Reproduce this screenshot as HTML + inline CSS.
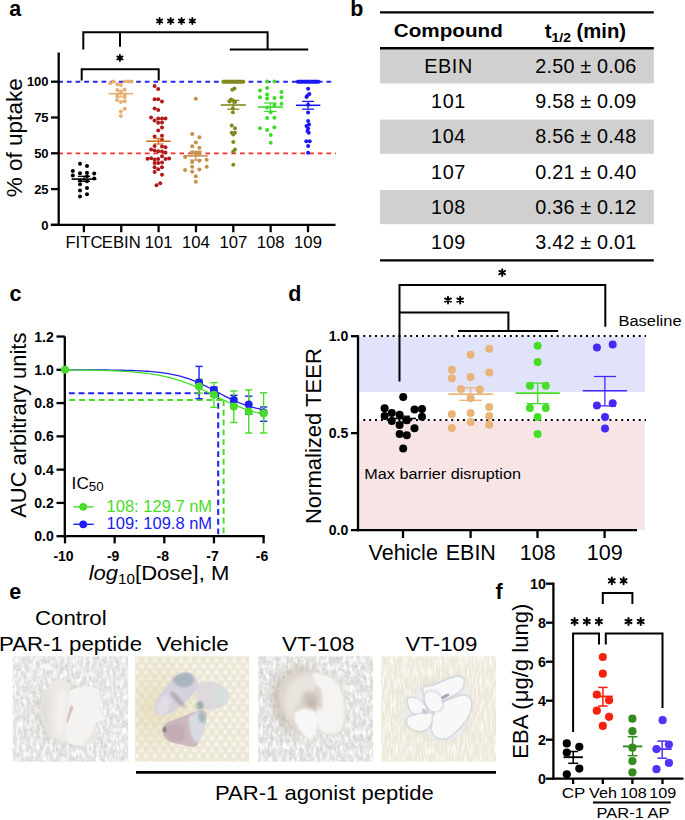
<!DOCTYPE html>
<html><head><meta charset="utf-8"><style>
html,body{margin:0;padding:0;background:#fff;width:685px;height:820px;overflow:hidden}
svg{display:block}
text{font-family:"Liberation Sans",sans-serif}
</style></head><body>
<svg width="685" height="820" viewBox="0 0 685 820">
<rect width="685" height="820" fill="#fff"/>
<defs>
<filter id="b05" x="-30%" y="-30%" width="160%" height="160%"><feGaussianBlur stdDeviation="0.6"/></filter>
<filter id="b1" x="-30%" y="-30%" width="160%" height="160%"><feGaussianBlur stdDeviation="1.2"/></filter>
<filter id="b2" x="-30%" y="-30%" width="160%" height="160%"><feGaussianBlur stdDeviation="2.5"/></filter>
<filter id="b4" x="-50%" y="-50%" width="200%" height="200%"><feGaussianBlur stdDeviation="5"/></filter>
<filter id="tx" x="0" y="0" width="100%" height="100%"><feTurbulence type="fractalNoise" baseFrequency="0.3 0.14" numOctaves="3" seed="3"/><feColorMatrix type="matrix" values="0 0 0 0 1  0 0 0 0 1  0 0 0 0 1  0 0 0 2.6 -1.05"/></filter>
<filter id="txd" x="0" y="0" width="100%" height="100%"><feTurbulence type="fractalNoise" baseFrequency="0.25 0.35" numOctaves="2" seed="11"/><feColorMatrix type="matrix" values="0 0 0 0 0.6  0 0 0 0 0.6  0 0 0 0 0.58  0 0 0 2.2 -1.0"/></filter>
<filter id="txv" x="0" y="0" width="100%" height="100%"><feTurbulence type="fractalNoise" baseFrequency="0.55 0.09" numOctaves="2" seed="5"/><feColorMatrix type="matrix" values="0 0 0 0 1  0 0 0 0 1  0 0 0 0 1  0 0 0 2.4 -1.0"/></filter>
<pattern id="tri" x="135.1" y="656.2" width="8.8" height="12" patternUnits="userSpaceOnUse"><path d="M2.2,0 L5.1,6 L-0.7,6Z M6.6,6 L9.5,12 L3.7,12Z M11,6 L13.9,12 L8.1,12Z M-2.2,6 L0.7,12 L-5.1,12Z" fill="#FBFAF6"/></pattern>
<radialGradient id="vig2" cx="0.2" cy="0.5" r="0.5"><stop offset="0" stop-color="#E0D3A8" stop-opacity="1"/><stop offset="1" stop-color="#E0D3A8" stop-opacity="0"/></radialGradient>
<clipPath id="c1"><rect x="12.6" y="656.2" width="115.7" height="105.5"/></clipPath>
<clipPath id="c2"><rect x="135.1" y="656.2" width="114.2" height="105.5"/></clipPath>
<clipPath id="c3"><rect x="258.1" y="656.2" width="115" height="105.5"/></clipPath>
<clipPath id="c4"><rect x="381.1" y="656.2" width="115" height="105.5"/></clipPath>
</defs>
<g clip-path="url(#c1)">
<rect x="12.6" y="656.2" width="115.7" height="105.5" fill="#E3E3E1"/>
<rect x="12.6" y="656.2" width="115.7" height="105.5" filter="url(#txd)"/>
<rect x="12.6" y="656.2" width="115.7" height="105.5" filter="url(#tx)"/>
<ellipse cx="64" cy="714" rx="30" ry="31" fill="#B0ACA6" opacity="0.2" filter="url(#b4)"/>
<path d="M60.2,679.4 C62.2,679.5 64.9,679.7 66.8,681.6 C68.6,683.4 69.1,689.3 71.1,690.3 C73.1,691.3 76.1,688.2 78.8,687.6 C81.5,687.0 84.8,686.4 87.6,686.5 C90.3,686.6 93.3,687.0 95.2,688.1 C97.1,689.3 98.1,691.2 99.1,693.6 C100.0,696.0 100.6,699.6 100.7,702.4 C100.8,705.1 98.9,707.3 99.6,710.0 C100.3,712.8 105.6,716.8 105.1,718.8 C104.5,720.8 97.9,720.3 96.3,722.1 C94.8,723.9 96.1,727.2 95.8,729.7 C95.4,732.3 95.1,735.2 94.1,737.4 C93.1,739.6 91.6,741.5 89.7,742.9 C87.9,744.3 85.5,745.3 83.2,745.6 C80.8,746.0 78.1,745.6 75.5,745.1 C73.0,744.5 70.0,742.9 67.8,742.3 C65.7,741.8 64.2,742.2 62.4,741.8 C60.5,741.3 59.1,740.9 56.9,739.6 C54.7,738.3 51.4,736.3 49.2,734.1 C47.0,731.9 45.1,729.4 43.8,726.5 C42.4,723.5 41.5,720.1 41.0,716.6 C40.6,713.1 40.6,709.3 41.0,705.7 C41.5,702.0 42.4,698.0 43.8,694.7 C45.1,691.4 47.4,688.2 49.2,685.9 C51.1,683.7 52.9,682.1 54.7,681.0 C56.5,679.9 58.2,679.3 60.2,679.4Z" fill="#EEEBE8" filter="url(#b05)"/>
<path d="M60.2,679.4 C62.2,679.5 64.9,679.9 66.8,681.6 C68.6,683.2 70.8,685.8 71.1,689.2 C71.5,692.7 69.7,698.4 68.9,702.4 C68.2,706.4 67.3,709.7 66.8,713.3 C66.2,717.0 66.0,720.4 65.7,724.3 C65.3,728.1 65.1,733.4 64.6,736.3 C64.0,739.2 63.7,741.2 62.4,741.8 C61.1,742.3 59.1,740.9 56.9,739.6 C54.7,738.3 51.4,736.3 49.2,734.1 C47.0,731.9 45.1,729.4 43.8,726.5 C42.4,723.5 41.5,720.1 41.0,716.6 C40.6,713.1 40.6,709.3 41.0,705.7 C41.5,702.0 42.4,698.0 43.8,694.7 C45.1,691.4 47.4,688.2 49.2,685.9 C51.1,683.7 52.9,682.1 54.7,681.0 C56.5,679.9 58.2,679.3 60.2,679.4Z" fill="#EBE8E5" filter="url(#b05)"/>
<path d="M41.6,707.8 C41.6,702.9 43.4,700.2 44.9,696.9 C46.3,693.6 49.8,687.2 50.3,688.1 C50.9,689.1 48.7,697.3 48.1,702.4 C47.6,707.5 46.7,713.9 47.0,718.8 C47.4,723.7 50.7,730.7 50.3,731.9 C50.0,733.2 46.3,730.5 44.9,726.5 C43.4,722.4 41.6,712.8 41.6,707.8Z" fill="#D6D0CA" opacity="0.6" filter="url(#b2)"/>
<path d="M60.2,687.0 C61.7,685.2 65.1,688.7 66.2,691.4 C67.3,694.2 66.9,699.3 66.8,703.5 C66.6,707.7 65.6,711.9 65.1,716.6 C64.7,721.4 64.7,728.5 64.0,731.9 C63.3,735.4 61.9,737.4 60.7,737.4 C59.5,737.4 57.7,735.0 56.9,731.9 C56.1,728.8 55.8,723.7 55.8,718.8 C55.8,713.9 56.2,707.7 56.9,702.4 C57.6,697.1 58.6,688.9 60.2,687.0Z" fill="#F3F2F1" filter="url(#b2)"/>
<path d="M71.1,690.3 C72.7,689.1 76.1,688.2 78.8,687.6 C81.5,687.0 84.8,686.4 87.6,686.5 C90.3,686.6 93.3,687.0 95.2,688.1 C97.1,689.3 98.1,691.2 99.1,693.6 C100.0,696.0 100.6,699.6 100.7,702.4 C100.8,705.1 99.2,707.8 99.6,710.0 C100.0,712.2 102.0,714.1 102.9,715.5 C103.8,717.0 105.3,717.9 105.1,718.8 C104.9,719.7 103.3,720.4 101.8,721.0 C100.3,721.5 97.3,720.6 96.3,722.1 C95.3,723.5 96.1,727.2 95.8,729.7 C95.4,732.3 95.1,735.2 94.1,737.4 C93.1,739.6 91.6,741.5 89.7,742.9 C87.9,744.3 85.5,745.3 83.2,745.6 C80.8,746.0 77.7,745.5 75.5,745.1 C73.3,744.6 71.5,744.3 70.0,742.9 C68.6,741.4 67.5,739.4 66.8,736.3 C66.0,733.2 65.7,728.1 65.7,724.3 C65.7,720.4 66.3,717.0 66.8,713.3 C67.2,709.7 67.9,705.5 68.4,702.4 C68.9,699.3 69.0,696.7 69.5,694.7 C69.9,692.7 69.6,691.5 71.1,690.3Z" fill="#F5F3F1" filter="url(#b05)"/>
<path d="M96.3,723.2 C97.0,722.8 95.8,731.0 94.7,734.1 C93.6,737.2 91.7,740.1 89.7,741.8 C87.8,743.4 83.0,744.9 83.2,744.0 C83.4,743.1 88.7,739.8 90.8,736.3 C93.0,732.8 95.7,723.5 96.3,723.2Z" fill="#E4E0DC" filter="url(#b1)"/>
<path d="M70.6,705.7 C71.4,704.9 73.4,706.0 73.3,707.8 C73.2,709.7 71.0,714.1 70.0,716.6 C69.1,719.2 68.4,722.4 67.8,723.2 C67.3,723.9 66.4,722.8 66.5,721.0 C66.6,719.2 67.7,714.8 68.4,712.2 C69.1,709.7 69.8,706.4 70.6,705.7Z" fill="#C9A6A6" opacity="0.6" filter="url(#b05)"/>
</g>
<g clip-path="url(#c2)">
<rect x="135.1" y="656.2" width="114.2" height="105.5" fill="#EAE4D0"/>
<rect x="135.1" y="656.2" width="114.2" height="105.5" fill="url(#tri)" filter="url(#b1)"/>
<rect x="135.1" y="656.2" width="114.2" height="105.5" fill="url(#vig2)" opacity="0.55"/>
<path d="M195.7,686.5 C196.8,683.9 199.6,682.5 203.0,681.9 C206.3,681.3 212.1,681.8 215.8,682.8 C219.4,683.9 222.6,686.2 224.9,688.3 C227.2,690.5 229.1,693.2 229.5,695.6 C229.8,698.1 228.7,700.8 226.7,702.9 C224.7,705.0 220.6,707.2 217.6,708.4 C214.5,709.6 211.2,710.5 208.5,710.2 C205.7,709.9 203.1,708.7 201.2,706.6 C199.2,704.4 197.5,700.8 196.6,697.4 C195.7,694.1 194.6,689.1 195.7,686.5Z" fill="#DDD9DD" filter="url(#b05)"/>
<path d="M154.6,708.4 C154.3,705.8 155.4,702.9 157.4,699.3 C159.3,695.6 163.8,690.1 166.5,686.5 C169.2,682.8 171.4,679.7 173.8,677.4 C176.2,675.1 178.4,673.6 181.1,672.8 C183.8,672.0 187.6,671.7 190.2,672.8 C192.8,673.9 195.4,676.9 196.6,679.2 C197.8,681.5 198.3,683.8 197.5,686.5 C196.8,689.2 194.2,692.9 192.0,695.6 C189.9,698.4 187.2,700.8 184.7,702.9 C182.3,705.0 180.2,706.6 177.4,708.4 C174.7,710.2 171.4,712.8 168.3,713.9 C165.3,714.9 161.5,715.7 159.2,714.8 C156.9,713.9 154.9,711.0 154.6,708.4Z" fill="#D6D2DC" filter="url(#b05)"/>
<path d="M161.9,730.3 C161.9,727.6 164.2,724.8 166.5,723.0 C168.8,721.2 172.6,720.6 175.6,719.3 C178.7,718.1 181.7,716.9 184.7,715.7 C187.8,714.5 190.8,713.0 193.9,712.0 C196.9,711.1 200.9,709.6 203.0,710.2 C205.1,710.8 206.3,713.0 206.6,715.7 C206.9,718.4 205.7,723.3 204.8,726.6 C203.9,730.0 202.4,732.7 201.2,735.8 C200.0,738.8 199.0,743.1 197.5,744.9 C196.0,746.7 194.5,746.7 192.0,746.7 C189.6,746.7 186.0,745.5 182.9,744.9 C179.9,744.3 176.5,744.0 173.8,743.1 C171.1,742.2 168.5,741.5 166.5,739.4 C164.5,737.3 161.9,733.0 161.9,730.3Z" fill="#CBB9BE" filter="url(#b05)"/>
<path d="M172.9,679.2 C173.2,677.1 178.2,674.6 181.1,673.7 C184.0,672.8 188.1,672.5 190.2,673.7 C192.3,674.9 194.2,678.9 193.9,681.0 C193.6,683.2 190.8,685.6 188.4,686.5 C186.0,687.4 181.9,687.7 179.3,686.5 C176.7,685.3 172.6,681.3 172.9,679.2Z" fill="#8CA2AC" opacity="0.6" filter="url(#b1)"/>
<path d="M170.1,692.0 C170.5,691.1 173.2,691.7 175.6,693.8 C178.1,695.9 183.5,702.5 184.7,704.7 C186.0,707.0 184.7,708.4 182.9,707.5 C181.1,706.6 175.9,701.9 173.8,699.3 C171.7,696.7 169.8,692.9 170.1,692.0Z" fill="#807488" opacity="0.4" filter="url(#b1)"/>
<path d="M157.4,704.7 C158.3,701.7 162.5,696.2 164.7,695.6 C166.8,695.0 169.8,698.4 170.1,701.1 C170.5,703.8 168.3,709.9 166.5,712.0 C164.7,714.2 160.7,715.1 159.2,713.9 C157.7,712.7 156.5,707.8 157.4,704.7Z" fill="#E4E0EA" opacity="0.8" filter="url(#b1)"/>
<path d="M217.6,688.3 C219.4,687.1 224.9,690.1 226.7,692.0 C228.5,693.8 229.5,697.1 228.5,699.3 C227.6,701.4 223.4,704.7 221.2,704.7 C219.1,704.7 216.4,702.0 215.8,699.3 C215.2,696.5 215.8,689.5 217.6,688.3Z" fill="#D6E2E0" opacity="0.9" filter="url(#b1)"/>
<path d="M196.6,702.9 C197.4,701.7 201.0,701.1 202.1,702.0 C203.1,702.9 203.8,707.2 203.0,708.4 C202.2,709.6 198.6,710.2 197.5,709.3 C196.5,708.4 195.8,704.1 196.6,702.9Z" fill="#6E8C84" opacity="0.6" filter="url(#b1)"/>
<path d="M190.2,715.7 C192.5,713.6 200.4,710.8 203.0,712.0 C205.6,713.3 205.9,719.0 205.7,723.0 C205.6,726.9 203.4,732.4 202.1,735.8 C200.7,739.1 199.2,743.1 197.5,743.1 C195.8,743.1 193.4,738.8 192.0,735.8 C190.7,732.7 189.6,728.2 189.3,724.8 C189.0,721.5 187.9,717.8 190.2,715.7Z" fill="#DCE2E8" opacity="0.85" filter="url(#b1)"/>
<path d="M198.4,713.9 C199.0,712.3 202.8,711.7 203.9,713.0 C205.0,714.2 205.4,719.6 204.8,721.2 C204.2,722.7 201.3,723.3 200.3,722.1 C199.2,720.9 197.8,715.4 198.4,713.9Z" fill="#86A8A4" opacity="0.65" filter="url(#b1)"/>
<path d="M166.5,726.6 C168.5,724.8 174.4,722.7 177.4,723.0 C180.5,723.3 183.8,725.7 184.7,728.5 C185.7,731.2 185.0,737.4 182.9,739.4 C180.8,741.4 174.9,741.2 172.0,740.3 C169.1,739.4 166.5,736.2 165.6,733.9 C164.7,731.7 164.5,728.5 166.5,726.6Z" fill="#BBA2A8" opacity="0.55" filter="url(#b1)"/>
<path d="M162.8,728.5 C163.2,727.6 165.0,726.2 165.6,726.6 C166.2,727.1 166.8,730.3 166.5,731.2 C166.2,732.1 164.4,732.6 163.8,732.1 C163.2,731.7 162.5,729.4 162.8,728.5Z" fill="#7A6060" opacity="0.6" filter="url(#b05)"/>
</g>
<g clip-path="url(#c3)">
<rect x="258.1" y="656.2" width="115" height="105.5" fill="#E0E0DE"/>
<rect x="258.1" y="656.2" width="115" height="105.5" filter="url(#txd)"/>
<rect x="258.1" y="656.2" width="115" height="105.5" filter="url(#tx)"/>
<path d="M273.5,689.0 C275.3,682.9 281.1,676.8 285.8,673.3 C290.5,669.8 296.9,668.6 301.6,668.0 C306.2,667.4 313.2,667.4 313.8,669.8 C314.4,672.1 308.3,677.1 305.1,682.0 C301.8,687.0 296.9,692.5 294.5,699.6 C292.2,706.6 290.7,717.9 291.0,724.1 C291.3,730.2 297.5,735.8 296.3,736.3 C295.1,736.9 287.5,732.0 284.0,727.6 C280.5,723.2 277.0,716.5 275.3,710.1 C273.5,703.6 271.8,695.2 273.5,689.0Z" fill="#A89882" opacity="0.5" filter="url(#b4)"/>
<path d="M278.8,689.0 C280.5,683.5 285.2,676.2 291.0,673.3 C296.9,670.4 307.1,670.9 313.8,671.5 C320.5,672.1 326.7,673.9 331.3,676.8 C336.0,679.7 339.5,684.1 341.8,689.0 C344.2,694.0 344.9,700.7 345.3,706.6 C345.8,712.4 345.3,719.7 344.5,724.1 C343.6,728.5 343.2,731.1 340.1,732.8 C337.0,734.6 329.9,735.2 326.1,734.6 C322.3,734.0 319.7,728.5 317.3,729.3 C315.0,730.2 314.1,738.4 312.1,739.8 C310.0,741.3 307.7,739.6 305.1,738.1 C302.4,736.6 299.2,734.0 296.3,731.1 C293.4,728.2 290.2,724.7 287.5,720.6 C284.9,716.5 282.0,711.8 280.5,706.6 C279.1,701.3 277.0,694.6 278.8,689.0Z" fill="#DDD5CC" filter="url(#b1)"/>
<path d="M285.8,692.5 C287.4,687.0 291.6,681.6 296.3,678.5 C301.0,675.5 310.5,672.4 313.8,674.1 C317.2,675.9 316.4,684.8 316.4,689.0 C316.4,693.3 316.0,697.8 313.8,699.6 C311.6,701.3 306.5,697.8 303.3,699.6 C300.1,701.3 296.6,706.6 294.5,710.1 C292.5,713.6 292.4,720.3 291.0,720.6 C289.7,720.9 287.5,716.5 286.7,711.8 C285.8,707.1 284.2,698.1 285.8,692.5Z" fill="#EAE5DF" filter="url(#b2)"/>
<path d="M313.8,673.3 C316.1,672.1 325.2,674.4 329.6,676.8 C334.0,679.1 337.6,682.6 340.1,687.3 C342.6,692.0 343.9,698.7 344.5,704.8 C345.1,710.9 344.6,719.4 343.6,724.1 C342.6,728.7 341.3,731.2 338.3,732.8 C335.4,734.4 329.4,734.6 326.1,733.7 C322.7,732.8 319.8,731.2 318.2,727.6 C316.6,723.9 316.3,716.8 316.4,711.8 C316.6,706.8 319.2,702.5 319.1,697.8 C318.9,693.1 316.4,687.9 315.6,683.8 C314.7,679.7 311.5,674.4 313.8,673.3Z" fill="#F5F4F3" filter="url(#b1)"/>
<path d="M296.3,711.8 C298.6,710.1 305.2,708.0 308.6,708.3 C311.9,708.6 315.0,710.4 316.4,713.6 C317.9,716.8 318.0,723.3 317.3,727.6 C316.6,731.8 314.0,737.4 312.1,739.0 C310.2,740.6 308.3,739.1 305.9,737.2 C303.6,735.3 299.9,730.6 298.0,727.6 C296.1,724.5 294.8,721.4 294.5,718.8 C294.3,716.2 294.0,713.6 296.3,711.8Z" fill="#F8F8F8" filter="url(#b1)"/>
<path d="M302.4,695.2 C303.0,692.5 309.3,691.1 312.1,691.7 C314.8,692.3 318.3,695.9 319.1,698.7 C319.8,701.4 318.2,706.8 316.4,708.3 C314.7,709.8 310.9,709.6 308.6,707.4 C306.2,705.2 301.8,697.8 302.4,695.2Z" fill="#B0A49C" opacity="0.55" filter="url(#b2)"/>
<path d="M315.6,685.5 C316.3,683.8 319.7,685.8 320.8,689.0 C322.0,692.3 322.9,701.3 322.6,704.8 C322.3,708.3 320.1,710.9 319.1,710.1 C318.0,709.2 317.0,703.6 316.4,699.6 C315.9,695.5 314.8,687.3 315.6,685.5Z" fill="#D8CEC4" opacity="0.7" filter="url(#b1)"/>
</g>
<g clip-path="url(#c4)">
<rect x="381.1" y="656.2" width="115" height="105.5" fill="#EDE8D9"/>
<rect x="381.1" y="656.2" width="115" height="105.5" filter="url(#txv)"/>
<path d="M404.7,700.4 C407.8,694.5 416.4,691.4 423.4,687.5 C430.4,683.6 440.1,678.6 446.7,677.0 C453.3,675.5 459.0,674.9 463.1,678.2 C467.2,681.5 470.1,690.1 471.3,696.9 C472.4,703.7 471.8,712.6 470.1,719.1 C468.3,725.5 464.6,731.7 460.7,735.4 C456.9,739.1 451.8,740.7 446.7,741.3 C441.7,741.8 435.0,740.7 430.4,738.9 C425.7,737.2 423.0,733.5 418.7,730.7 C414.4,728.0 407.0,727.6 404.7,722.6 C402.3,717.5 401.6,706.2 404.7,700.4Z" fill="#D8D4C6" opacity="0.35" filter="url(#b4)"/>
<path d="M407.0,699.2 C409.8,694.9 417.1,692.0 423.4,688.7 C429.6,685.4 438.2,681.3 444.4,679.3 C450.6,677.4 457.2,676.4 460.7,677.0 C464.3,677.6 463.9,679.0 465.4,682.9 C467.0,686.7 469.5,694.3 470.1,700.4 C470.7,706.4 470.9,713.2 468.9,719.1 C467.0,724.9 462.5,731.7 458.4,735.4 C454.3,739.1 449.1,740.9 444.4,741.3 C439.7,741.7 433.9,739.5 430.4,737.8 C426.9,736.0 426.9,732.7 423.4,730.7 C419.9,728.8 412.2,728.8 409.3,726.1 C406.5,723.3 406.8,718.9 406.4,714.4 C406.0,709.9 404.2,703.5 407.0,699.2Z" fill="#EDEEF1" filter="url(#b1)"/>
<path d="M423.4,688.7 C424.5,686.4 430.8,686.7 435.0,685.2 C439.3,683.6 445.2,680.7 449.1,679.3 C453.0,678.0 456.0,676.8 458.4,677.0 C460.8,677.2 463.3,678.4 463.7,680.5 C464.1,682.7 462.8,687.3 460.7,689.9 C458.7,692.4 454.3,694.1 451.4,695.7 C448.5,697.3 446.0,698.2 443.2,699.2 C440.5,700.2 437.6,701.5 435.0,701.5 C432.5,701.5 430.0,701.3 428.0,699.2 C426.1,697.1 422.2,691.0 423.4,688.7Z" fill="none" stroke="#B8BEC8" stroke-width="2" opacity="0.8" filter="url(#b1)"/>
<path d="M423.4,688.7 C424.5,686.4 430.8,686.7 435.0,685.2 C439.3,683.6 445.2,680.7 449.1,679.3 C453.0,678.0 456.0,676.8 458.4,677.0 C460.8,677.2 463.3,678.4 463.7,680.5 C464.1,682.7 462.8,687.3 460.7,689.9 C458.7,692.4 454.3,694.1 451.4,695.7 C448.5,697.3 446.0,698.2 443.2,699.2 C440.5,700.2 437.6,701.5 435.0,701.5 C432.5,701.5 430.0,701.3 428.0,699.2 C426.1,697.1 422.2,691.0 423.4,688.7Z" fill="#F8F8F9" filter="url(#b05)"/>
<path d="M408.2,699.2 C409.2,697.4 414.0,698.0 416.4,698.6 C418.7,699.2 420.4,700.9 422.2,702.7 C423.9,704.6 426.5,707.8 426.9,709.7 C427.3,711.7 426.3,713.6 424.5,714.4 C422.8,715.2 418.7,715.2 416.4,714.4 C414.0,713.6 411.9,712.3 410.5,709.7 C409.2,707.2 407.2,701.1 408.2,699.2Z" fill="none" stroke="#B8BEC8" stroke-width="2" opacity="0.8" filter="url(#b1)"/>
<path d="M408.2,699.2 C409.2,697.4 414.0,698.0 416.4,698.6 C418.7,699.2 420.4,700.9 422.2,702.7 C423.9,704.6 426.5,707.8 426.9,709.7 C427.3,711.7 426.3,713.6 424.5,714.4 C422.8,715.2 418.7,715.2 416.4,714.4 C414.0,713.6 411.9,712.3 410.5,709.7 C409.2,707.2 407.2,701.1 408.2,699.2Z" fill="#F8F8F9" filter="url(#b05)"/>
<path d="M408.2,717.9 C409.9,716.1 415.0,715.1 418.7,714.4 C422.4,713.7 427.8,713.2 430.4,713.8 C432.9,714.4 434.1,715.9 433.9,717.9 C433.7,719.9 431.2,723.9 429.2,726.1 C427.3,728.2 424.7,730.2 422.2,730.7 C419.7,731.3 416.4,730.6 414.0,729.6 C411.7,728.6 409.2,726.9 408.2,724.9 C407.2,723.0 406.4,719.6 408.2,717.9Z" fill="none" stroke="#B8BEC8" stroke-width="2" opacity="0.8" filter="url(#b1)"/>
<path d="M408.2,717.9 C409.9,716.1 415.0,715.1 418.7,714.4 C422.4,713.7 427.8,713.2 430.4,713.8 C432.9,714.4 434.1,715.9 433.9,717.9 C433.7,719.9 431.2,723.9 429.2,726.1 C427.3,728.2 424.7,730.2 422.2,730.7 C419.7,731.3 416.4,730.6 414.0,729.6 C411.7,728.6 409.2,726.9 408.2,724.9 C407.2,723.0 406.4,719.6 408.2,717.9Z" fill="#F8F8F9" filter="url(#b05)"/>
<path d="M438.6,705.0 C441.3,702.9 447.3,700.8 451.4,699.2 C455.5,697.6 460.0,695.7 463.1,695.7 C466.2,695.7 468.8,697.1 470.1,699.2 C471.4,701.3 471.5,705.0 470.7,708.6 C469.9,712.1 467.9,716.5 465.4,720.2 C463.0,723.9 459.2,727.8 456.1,730.7 C453.0,733.7 449.6,736.6 446.7,737.8 C443.8,738.9 440.9,738.7 438.6,737.8 C436.2,736.8 433.7,734.6 432.7,731.9 C431.7,729.2 432.3,724.7 432.7,721.4 C433.1,718.1 434.1,714.8 435.0,712.1 C436.0,709.3 435.8,707.2 438.6,705.0Z" fill="none" stroke="#B8BEC8" stroke-width="2" opacity="0.8" filter="url(#b1)"/>
<path d="M438.6,705.0 C441.3,702.9 447.3,700.8 451.4,699.2 C455.5,697.6 460.0,695.7 463.1,695.7 C466.2,695.7 468.8,697.1 470.1,699.2 C471.4,701.3 471.5,705.0 470.7,708.6 C469.9,712.1 467.9,716.5 465.4,720.2 C463.0,723.9 459.2,727.8 456.1,730.7 C453.0,733.7 449.6,736.6 446.7,737.8 C443.8,738.9 440.9,738.7 438.6,737.8 C436.2,736.8 433.7,734.6 432.7,731.9 C431.7,729.2 432.3,724.7 432.7,721.4 C433.1,718.1 434.1,714.8 435.0,712.1 C436.0,709.3 435.8,707.2 438.6,705.0Z" fill="#F8F8F9" filter="url(#b05)"/>
<path d="M425.7,693.4 C427.3,691.6 432.5,691.4 435.0,692.2 C437.6,693.0 439.7,695.7 440.9,698.0 C442.1,700.4 442.6,704.1 442.1,706.2 C441.5,708.4 439.3,710.3 437.4,710.9 C435.4,711.5 432.3,711.1 430.4,709.7 C428.4,708.4 426.5,705.4 425.7,702.7 C424.9,700.0 424.1,695.1 425.7,693.4Z" fill="none" stroke="#B8BEC8" stroke-width="2" opacity="0.8" filter="url(#b1)"/>
<path d="M425.7,693.4 C427.3,691.6 432.5,691.4 435.0,692.2 C437.6,693.0 439.7,695.7 440.9,698.0 C442.1,700.4 442.6,704.1 442.1,706.2 C441.5,708.4 439.3,710.3 437.4,710.9 C435.4,711.5 432.3,711.1 430.4,709.7 C428.4,708.4 426.5,705.4 425.7,702.7 C424.9,700.0 424.1,695.1 425.7,693.4Z" fill="#F8F8F9" filter="url(#b05)"/>
<path d="M440.9,697.5 C441.4,696.7 445.3,694.3 446.7,693.9 C448.2,693.6 450.1,694.3 449.6,695.1 C449.2,695.9 445.3,698.2 443.8,698.6 C442.3,699.0 440.4,698.2 440.9,697.5Z" fill="#7A869A" opacity="0.7" filter="url(#b05)"/>
<path d="M422.2,708.6 C422.9,708.1 426.3,709.3 426.9,710.3 C427.5,711.3 426.4,713.9 425.7,714.4 C425.0,714.9 423.4,714.2 422.8,713.2 C422.2,712.3 421.5,709.0 422.2,708.6Z" fill="#B8C0CC" opacity="0.7" filter="url(#b05)"/>
</g>
<text x="9.3" y="16.4" font-size="21.5" text-anchor="start" font-weight="bold" fill="#000" >a</text>
<line x1="58.3" y1="81.8" x2="334" y2="81.8" stroke="#2626F2" stroke-width="1.9" stroke-dasharray="4.7 3.95"/>
<line x1="58.3" y1="153.4" x2="336" y2="153.4" stroke="#F53030" stroke-width="1.7" stroke-dasharray="4.7 3.95"/>
<line x1="58.7" y1="52.5" x2="58.7" y2="226" stroke="#000" stroke-width="2.3" />
<line x1="50.8" y1="224.9" x2="335.5" y2="224.9" stroke="#000" stroke-width="2.3" />
<line x1="51" y1="224.9" x2="58.7" y2="224.9" stroke="#000" stroke-width="2.3" />
<text x="48.6" y="229.5" font-size="13" text-anchor="end" font-weight="bold" fill="#000" >0</text>
<line x1="51" y1="189.1" x2="58.7" y2="189.1" stroke="#000" stroke-width="2.3" />
<text x="48.6" y="193.7" font-size="13" text-anchor="end" font-weight="bold" fill="#000" >25</text>
<line x1="51" y1="153.3" x2="58.7" y2="153.3" stroke="#000" stroke-width="2.3" />
<text x="48.6" y="157.9" font-size="13" text-anchor="end" font-weight="bold" fill="#000" >50</text>
<line x1="51" y1="117.5" x2="58.7" y2="117.5" stroke="#000" stroke-width="2.3" />
<text x="48.6" y="122.1" font-size="13" text-anchor="end" font-weight="bold" fill="#000" >75</text>
<line x1="51" y1="81.7" x2="58.7" y2="81.7" stroke="#000" stroke-width="2.3" />
<text x="48.6" y="86.3" font-size="13" text-anchor="end" font-weight="bold" fill="#000" >100</text>
<line x1="83.9" y1="224.9" x2="83.9" y2="232.2" stroke="#000" stroke-width="2.3" />
<line x1="121.25" y1="224.9" x2="121.25" y2="232.2" stroke="#000" stroke-width="2.3" />
<line x1="158.6" y1="224.9" x2="158.6" y2="232.2" stroke="#000" stroke-width="2.3" />
<line x1="195.95" y1="224.9" x2="195.95" y2="232.2" stroke="#000" stroke-width="2.3" />
<line x1="233.3" y1="224.9" x2="233.3" y2="232.2" stroke="#000" stroke-width="2.3" />
<line x1="270.65" y1="224.9" x2="270.65" y2="232.2" stroke="#000" stroke-width="2.3" />
<line x1="308" y1="224.9" x2="308" y2="232.2" stroke="#000" stroke-width="2.3" />
<text transform="translate(83.9,248.4) scale(1.07,1)" font-size="15.6" text-anchor="middle" font-weight="normal" fill="#000" >FITC</text>
<text transform="translate(121.25,248.4) scale(1.07,1)" font-size="15.6" text-anchor="middle" font-weight="normal" fill="#000" >EBIN</text>
<text transform="translate(158.6,248.4) scale(1.07,1)" font-size="15.6" text-anchor="middle" font-weight="normal" fill="#000" >101</text>
<text transform="translate(195.95,248.4) scale(1.07,1)" font-size="15.6" text-anchor="middle" font-weight="normal" fill="#000" >104</text>
<text transform="translate(233.3,248.4) scale(1.07,1)" font-size="15.6" text-anchor="middle" font-weight="normal" fill="#000" >107</text>
<text transform="translate(270.65,248.4) scale(1.07,1)" font-size="15.6" text-anchor="middle" font-weight="normal" fill="#000" >108</text>
<text transform="translate(308,248.4) scale(1.07,1)" font-size="15.6" text-anchor="middle" font-weight="normal" fill="#000" >109</text>
<text transform="translate(22.3,137.8) rotate(-90) scale(1.035,1)" font-size="21.8" text-anchor="middle" font-weight="normal" fill="#000" >% of uptake</text>
<polyline points="83.3,49.5 83.3,32.2 267.6,32.2 267.6,49.5" fill="none" stroke="#000" stroke-width="2" />
<line x1="120" y1="32.2" x2="120" y2="46.8" stroke="#000" stroke-width="2" />
<line x1="229.8" y1="49.5" x2="308.2" y2="49.5" stroke="#000" stroke-width="2" />
<polyline points="81.7,80.6 81.7,69.2 158.7,69.2 158.7,80.6" fill="none" stroke="#000" stroke-width="2" />
<path d="M159.6,17.9V24.1M156.92,19.45L162.28,22.55M156.92,22.55L162.28,19.45" stroke="#000" stroke-width="1.8" stroke-linecap="round" fill="none"/>
<path d="M170.6,17.9V24.1M167.92,19.45L173.28,22.55M167.92,22.55L173.28,19.45" stroke="#000" stroke-width="1.8" stroke-linecap="round" fill="none"/>
<path d="M181.5,17.9V24.1M178.82,19.45L184.18,22.55M178.82,22.55L184.18,19.45" stroke="#000" stroke-width="1.8" stroke-linecap="round" fill="none"/>
<path d="M192.3,17.9V24.1M189.62,19.45L194.98,22.55M189.62,22.55L194.98,19.45" stroke="#000" stroke-width="1.8" stroke-linecap="round" fill="none"/>
<path d="M119.9,54.8V61M117.22,56.35L122.58,59.45M117.22,59.45L122.58,56.35" stroke="#000" stroke-width="1.8" stroke-linecap="round" fill="none"/>
<circle cx="80" cy="163.8" r="2.0" fill="#000"/>
<circle cx="87" cy="166" r="2.0" fill="#000"/>
<circle cx="72.8" cy="171" r="2.0" fill="#000"/>
<circle cx="80" cy="173.2" r="2.0" fill="#000"/>
<circle cx="87" cy="172.7" r="2.0" fill="#000"/>
<circle cx="94.2" cy="173.4" r="2.0" fill="#000"/>
<circle cx="72.8" cy="175.4" r="2.0" fill="#000"/>
<circle cx="87" cy="176.3" r="2.0" fill="#000"/>
<circle cx="94.2" cy="178.5" r="2.0" fill="#000"/>
<circle cx="80" cy="180.6" r="2.0" fill="#000"/>
<circle cx="87" cy="181.2" r="2.0" fill="#000"/>
<circle cx="80" cy="184.3" r="2.0" fill="#000"/>
<circle cx="87" cy="187.9" r="2.0" fill="#000"/>
<circle cx="80" cy="190.4" r="2.0" fill="#000"/>
<circle cx="87" cy="194.3" r="2.0" fill="#000"/>
<circle cx="80" cy="196.5" r="2.0" fill="#000"/>
<line x1="71.6" y1="179.1" x2="96.4" y2="179.1" stroke="#000" stroke-width="1.6" />
<line x1="84" y1="176.3" x2="84" y2="181.3" stroke="#000" stroke-width="1.2800000000000002" />
<line x1="77.9" y1="176.3" x2="90.1" y2="176.3" stroke="#000" stroke-width="1.2800000000000002" />
<line x1="77.9" y1="181.3" x2="90.1" y2="181.3" stroke="#000" stroke-width="1.2800000000000002" />
<circle cx="110.2" cy="83.2" r="2.0" fill="#E7B071"/>
<circle cx="113.7" cy="81.6" r="2.0" fill="#E7B071"/>
<circle cx="117.4" cy="84.3" r="2.0" fill="#E7B071"/>
<circle cx="120.9" cy="84.9" r="2.0" fill="#E7B071"/>
<circle cx="124.7" cy="81.6" r="2.0" fill="#E7B071"/>
<circle cx="128.1" cy="81.6" r="2.0" fill="#E7B071"/>
<circle cx="131.6" cy="81.6" r="2.0" fill="#E7B071"/>
<circle cx="117.4" cy="90" r="2.0" fill="#E7B071"/>
<circle cx="124.7" cy="89.4" r="2.0" fill="#E7B071"/>
<circle cx="120.9" cy="92.6" r="2.0" fill="#E7B071"/>
<circle cx="117.4" cy="94.5" r="2.0" fill="#E7B071"/>
<circle cx="124.7" cy="94.5" r="2.0" fill="#E7B071"/>
<circle cx="117.4" cy="96.4" r="2.0" fill="#E7B071"/>
<circle cx="124.7" cy="96.9" r="2.0" fill="#E7B071"/>
<circle cx="117.1" cy="99.9" r="2.0" fill="#E7B071"/>
<circle cx="120.9" cy="102" r="2.0" fill="#E7B071"/>
<circle cx="124.7" cy="101.2" r="2.0" fill="#E7B071"/>
<circle cx="124.7" cy="108.7" r="2.0" fill="#E7B071"/>
<circle cx="120.9" cy="111.4" r="2.0" fill="#E7B071"/>
<circle cx="120.9" cy="116" r="2.0" fill="#E7B071"/>
<line x1="108.6" y1="93.7" x2="133.2" y2="93.7" stroke="#E7B071" stroke-width="1.6" />
<line x1="120.9" y1="90.5" x2="120.9" y2="97" stroke="#E7B071" stroke-width="1.2800000000000002" />
<line x1="115.9" y1="90.5" x2="125.9" y2="90.5" stroke="#E7B071" stroke-width="1.2800000000000002" />
<line x1="115.9" y1="97" x2="125.9" y2="97" stroke="#E7B071" stroke-width="1.2800000000000002" />
<circle cx="154.6" cy="85.9" r="2.0" fill="#B01A1A"/>
<circle cx="158.2" cy="88.9" r="2.0" fill="#B01A1A"/>
<circle cx="154.6" cy="99.2" r="2.0" fill="#B01A1A"/>
<circle cx="158.2" cy="99.2" r="2.0" fill="#B01A1A"/>
<circle cx="162" cy="101.4" r="2.0" fill="#B01A1A"/>
<circle cx="154.6" cy="108.5" r="2.0" fill="#B01A1A"/>
<circle cx="158.2" cy="110.1" r="2.0" fill="#B01A1A"/>
<circle cx="151.1" cy="117.6" r="2.0" fill="#B01A1A"/>
<circle cx="154.6" cy="120.5" r="2.0" fill="#B01A1A"/>
<circle cx="158.2" cy="118.6" r="2.0" fill="#B01A1A"/>
<circle cx="162" cy="118.6" r="2.0" fill="#B01A1A"/>
<circle cx="165.5" cy="118.6" r="2.0" fill="#B01A1A"/>
<circle cx="158.2" cy="122.8" r="2.0" fill="#B01A1A"/>
<circle cx="162" cy="122.5" r="2.0" fill="#B01A1A"/>
<circle cx="162" cy="127.5" r="2.0" fill="#B01A1A"/>
<circle cx="158.2" cy="130.4" r="2.0" fill="#B01A1A"/>
<circle cx="154.6" cy="136.6" r="2.0" fill="#B01A1A"/>
<circle cx="162" cy="135.8" r="2.0" fill="#B01A1A"/>
<circle cx="162" cy="139.8" r="2.0" fill="#B01A1A"/>
<circle cx="154.6" cy="146.1" r="2.0" fill="#B01A1A"/>
<circle cx="162" cy="146.5" r="2.0" fill="#B01A1A"/>
<circle cx="165.5" cy="147.3" r="2.0" fill="#B01A1A"/>
<circle cx="151.1" cy="149.5" r="2.0" fill="#B01A1A"/>
<circle cx="154.6" cy="150.4" r="2.0" fill="#B01A1A"/>
<circle cx="158.2" cy="151.2" r="2.0" fill="#B01A1A"/>
<circle cx="162" cy="151.6" r="2.0" fill="#B01A1A"/>
<circle cx="165.5" cy="152.4" r="2.0" fill="#B01A1A"/>
<circle cx="162" cy="156.2" r="2.0" fill="#B01A1A"/>
<circle cx="147.5" cy="158.8" r="2.0" fill="#B01A1A"/>
<circle cx="151.1" cy="158.2" r="2.0" fill="#B01A1A"/>
<circle cx="154.6" cy="159.5" r="2.0" fill="#B01A1A"/>
<circle cx="158.2" cy="159" r="2.0" fill="#B01A1A"/>
<circle cx="165.5" cy="159" r="2.0" fill="#B01A1A"/>
<circle cx="169.1" cy="158.5" r="2.0" fill="#B01A1A"/>
<circle cx="154.6" cy="163.1" r="2.0" fill="#B01A1A"/>
<circle cx="158.2" cy="163.1" r="2.0" fill="#B01A1A"/>
<circle cx="162" cy="162.5" r="2.0" fill="#B01A1A"/>
<circle cx="154.6" cy="167.3" r="2.0" fill="#B01A1A"/>
<circle cx="162" cy="167.3" r="2.0" fill="#B01A1A"/>
<circle cx="158.2" cy="169.2" r="2.0" fill="#B01A1A"/>
<circle cx="154.6" cy="172.1" r="2.0" fill="#B01A1A"/>
<circle cx="162" cy="174.8" r="2.0" fill="#B01A1A"/>
<circle cx="160.2" cy="183.3" r="2.0" fill="#B01A1A"/>
<circle cx="156.5" cy="185.3" r="2.0" fill="#B01A1A"/>
<line x1="146.3" y1="141.2" x2="170.7" y2="141.2" stroke="#D0701E" stroke-width="1.6" />
<line x1="158.5" y1="138.5" x2="158.5" y2="144" stroke="#D0701E" stroke-width="1.2800000000000002" />
<line x1="153.5" y1="138.5" x2="163.5" y2="138.5" stroke="#D0701E" stroke-width="1.2800000000000002" />
<line x1="153.5" y1="144" x2="163.5" y2="144" stroke="#D0701E" stroke-width="1.2800000000000002" />
<circle cx="195.8" cy="98.8" r="2.0" fill="#C4904A"/>
<circle cx="192.2" cy="133.9" r="2.0" fill="#C4904A"/>
<circle cx="199.4" cy="137.3" r="2.0" fill="#C4904A"/>
<circle cx="195.8" cy="142.4" r="2.0" fill="#C4904A"/>
<circle cx="192.2" cy="146.3" r="2.0" fill="#C4904A"/>
<circle cx="199.4" cy="147.7" r="2.0" fill="#C4904A"/>
<circle cx="192.2" cy="152.8" r="2.0" fill="#C4904A"/>
<circle cx="195.8" cy="153.2" r="2.0" fill="#C4904A"/>
<circle cx="199.4" cy="153.2" r="2.0" fill="#C4904A"/>
<circle cx="185.1" cy="157.1" r="2.0" fill="#C4904A"/>
<circle cx="192.2" cy="162" r="2.0" fill="#C4904A"/>
<circle cx="199.4" cy="160.7" r="2.0" fill="#C4904A"/>
<circle cx="206.7" cy="159.8" r="2.0" fill="#C4904A"/>
<circle cx="192.2" cy="166.8" r="2.0" fill="#C4904A"/>
<circle cx="206.7" cy="166.8" r="2.0" fill="#C4904A"/>
<circle cx="185.1" cy="169.9" r="2.0" fill="#C4904A"/>
<circle cx="192.2" cy="171.7" r="2.0" fill="#C4904A"/>
<circle cx="199.4" cy="169.6" r="2.0" fill="#C4904A"/>
<circle cx="195.8" cy="176.2" r="2.0" fill="#C4904A"/>
<circle cx="195.8" cy="181.8" r="2.0" fill="#C4904A"/>
<line x1="183.8" y1="155.9" x2="208" y2="155.9" stroke="#C4904A" stroke-width="1.6" />
<line x1="195.9" y1="151.3" x2="195.9" y2="160.1" stroke="#C4904A" stroke-width="1.2800000000000002" />
<line x1="190.2" y1="151.3" x2="201.6" y2="151.3" stroke="#C4904A" stroke-width="1.2800000000000002" />
<line x1="190.2" y1="160.1" x2="201.6" y2="160.1" stroke="#C4904A" stroke-width="1.2800000000000002" />
<line x1="223.3" y1="81.8" x2="243.3" y2="81.8" stroke="#83891E" stroke-width="3.9" stroke-linecap="round"/>
<circle cx="232.3" cy="89.7" r="2.0" fill="#83891E"/>
<circle cx="234.5" cy="88.4" r="2.0" fill="#83891E"/>
<circle cx="231" cy="99.5" r="2.0" fill="#83891E"/>
<circle cx="233" cy="100.5" r="2.0" fill="#83891E"/>
<circle cx="235.2" cy="102" r="2.0" fill="#83891E"/>
<circle cx="229.5" cy="101.5" r="2.0" fill="#83891E"/>
<circle cx="232.9" cy="108.3" r="2.0" fill="#83891E"/>
<circle cx="232.9" cy="112.3" r="2.0" fill="#83891E"/>
<circle cx="231.7" cy="125.4" r="2.0" fill="#83891E"/>
<circle cx="235" cy="128.2" r="2.0" fill="#83891E"/>
<circle cx="231.7" cy="132.7" r="2.0" fill="#83891E"/>
<circle cx="235" cy="132.7" r="2.0" fill="#83891E"/>
<circle cx="233.3" cy="134.5" r="2.0" fill="#83891E"/>
<circle cx="233.3" cy="141.9" r="2.0" fill="#83891E"/>
<circle cx="235" cy="149.5" r="2.0" fill="#83891E"/>
<circle cx="233.3" cy="151.6" r="2.0" fill="#83891E"/>
<circle cx="233.3" cy="164.7" r="2.0" fill="#83891E"/>
<line x1="220.8" y1="105" x2="245.8" y2="105" stroke="#83891E" stroke-width="1.6" />
<line x1="233.3" y1="100.4" x2="233.3" y2="109.2" stroke="#83891E" stroke-width="1.2800000000000002" />
<line x1="227.2" y1="100.4" x2="239.4" y2="100.4" stroke="#83891E" stroke-width="1.2800000000000002" />
<line x1="227.2" y1="109.2" x2="239.4" y2="109.2" stroke="#83891E" stroke-width="1.2800000000000002" />
<circle cx="267.1" cy="81.5" r="2.0" fill="#3EDC2A"/>
<circle cx="274.4" cy="81.5" r="2.0" fill="#3EDC2A"/>
<circle cx="267.1" cy="88" r="2.0" fill="#3EDC2A"/>
<circle cx="260" cy="90.4" r="2.0" fill="#3EDC2A"/>
<circle cx="281.5" cy="92.1" r="2.0" fill="#3EDC2A"/>
<circle cx="267.1" cy="94.5" r="2.0" fill="#3EDC2A"/>
<circle cx="260" cy="97.3" r="2.0" fill="#3EDC2A"/>
<circle cx="267.1" cy="98.6" r="2.0" fill="#3EDC2A"/>
<circle cx="274.4" cy="98" r="2.0" fill="#3EDC2A"/>
<circle cx="281.5" cy="97.3" r="2.0" fill="#3EDC2A"/>
<circle cx="274.4" cy="105" r="2.0" fill="#3EDC2A"/>
<circle cx="281.5" cy="103.8" r="2.0" fill="#3EDC2A"/>
<circle cx="267.1" cy="107.5" r="2.0" fill="#3EDC2A"/>
<circle cx="270.7" cy="112.3" r="2.0" fill="#3EDC2A"/>
<circle cx="267.1" cy="118.1" r="2.0" fill="#3EDC2A"/>
<circle cx="274.4" cy="117.8" r="2.0" fill="#3EDC2A"/>
<circle cx="260" cy="128.2" r="2.0" fill="#3EDC2A"/>
<circle cx="267.1" cy="129.9" r="2.0" fill="#3EDC2A"/>
<circle cx="274.4" cy="127.2" r="2.0" fill="#3EDC2A"/>
<circle cx="270.7" cy="135.1" r="2.0" fill="#3EDC2A"/>
<circle cx="270.7" cy="142.8" r="2.0" fill="#3EDC2A"/>
<line x1="257.9" y1="107.1" x2="282.9" y2="107.1" stroke="#3EDC2A" stroke-width="1.6" />
<line x1="270.4" y1="103" x2="270.4" y2="111.4" stroke="#3EDC2A" stroke-width="1.2800000000000002" />
<line x1="264.2" y1="103" x2="276.6" y2="103" stroke="#3EDC2A" stroke-width="1.2800000000000002" />
<line x1="264.2" y1="111.4" x2="276.6" y2="111.4" stroke="#3EDC2A" stroke-width="1.2800000000000002" />
<line x1="297.8" y1="81.8" x2="318.4" y2="81.8" stroke="#1A1AF0" stroke-width="3.9" stroke-linecap="round"/>
<circle cx="308.1" cy="88.8" r="2.0" fill="#1A1AF0"/>
<circle cx="309.3" cy="94" r="2.0" fill="#1A1AF0"/>
<circle cx="307.5" cy="95.5" r="2.0" fill="#1A1AF0"/>
<circle cx="306.5" cy="97" r="2.0" fill="#1A1AF0"/>
<circle cx="308.1" cy="104.7" r="2.0" fill="#1A1AF0"/>
<circle cx="308.1" cy="112.6" r="2.0" fill="#1A1AF0"/>
<circle cx="308.1" cy="121.1" r="2.0" fill="#1A1AF0"/>
<circle cx="309" cy="124.5" r="2.0" fill="#1A1AF0"/>
<circle cx="306.5" cy="126" r="2.0" fill="#1A1AF0"/>
<circle cx="308.1" cy="128.4" r="2.0" fill="#1A1AF0"/>
<circle cx="307.5" cy="130.9" r="2.0" fill="#1A1AF0"/>
<circle cx="308.7" cy="132.7" r="2.0" fill="#1A1AF0"/>
<circle cx="306.3" cy="141.2" r="2.0" fill="#1A1AF0"/>
<circle cx="309.7" cy="141.2" r="2.0" fill="#1A1AF0"/>
<circle cx="308.1" cy="146.1" r="2.0" fill="#1A1AF0"/>
<circle cx="308.1" cy="152.8" r="2.0" fill="#1A1AF0"/>
<line x1="295.9" y1="105.3" x2="320.3" y2="105.3" stroke="#1A1AF0" stroke-width="1.6" />
<line x1="308.1" y1="101.4" x2="308.1" y2="109.2" stroke="#1A1AF0" stroke-width="1.2800000000000002" />
<line x1="302.1" y1="101.4" x2="314.1" y2="101.4" stroke="#1A1AF0" stroke-width="1.2800000000000002" />
<line x1="302.1" y1="109.2" x2="314.1" y2="109.2" stroke="#1A1AF0" stroke-width="1.2800000000000002" />
<text x="350.2" y="16.4" font-size="21.5" text-anchor="start" font-weight="bold" fill="#000" >b</text>
<rect x="380" y="49.2" width="273.8" height="34.2" fill="#D0D0D0"/>
<rect x="380" y="119.6" width="273.8" height="34.2" fill="#D0D0D0"/>
<rect x="380" y="190" width="273.8" height="34.2" fill="#D0D0D0"/>
<line x1="380" y1="12.3" x2="653.8" y2="12.3" stroke="#000" stroke-width="2.2" />
<line x1="380" y1="48.2" x2="653.8" y2="48.2" stroke="#000" stroke-width="2.6" />
<line x1="380" y1="260.3" x2="653.8" y2="260.3" stroke="#000" stroke-width="2.2" />
<text transform="translate(448.3,36.8) scale(1.1,1)" font-size="18.8" text-anchor="middle" font-weight="bold" fill="#000" >Compound</text>
<text transform="translate(585.4,37.9) scale(1.04,1)" font-size="19.5" text-anchor="middle" font-weight="bold">t<tspan font-size="13.5" dy="4.4">1/2</tspan><tspan dy="-4.4"> (min)</tspan></text>
<text x="448.5" y="73" font-size="19.8" text-anchor="middle" font-weight="normal" fill="#000" letter-spacing="0.6">EBIN</text>
<text x="585.9" y="73" font-size="19.8" text-anchor="middle" font-weight="normal" fill="#000" letter-spacing="0.2">2.50 ± 0.06</text>
<text x="448.5" y="108.2" font-size="19.8" text-anchor="middle" font-weight="normal" fill="#000" letter-spacing="0.6">101</text>
<text x="585.9" y="108.2" font-size="19.8" text-anchor="middle" font-weight="normal" fill="#000" letter-spacing="0.2">9.58 ± 0.09</text>
<text x="448.5" y="143.4" font-size="19.8" text-anchor="middle" font-weight="normal" fill="#000" letter-spacing="0.6">104</text>
<text x="585.9" y="143.4" font-size="19.8" text-anchor="middle" font-weight="normal" fill="#000" letter-spacing="0.2">8.56 ± 0.48</text>
<text x="448.5" y="178.6" font-size="19.8" text-anchor="middle" font-weight="normal" fill="#000" letter-spacing="0.6">107</text>
<text x="585.9" y="178.6" font-size="19.8" text-anchor="middle" font-weight="normal" fill="#000" letter-spacing="0.2">0.21 ± 0.40</text>
<text x="448.5" y="213.8" font-size="19.8" text-anchor="middle" font-weight="normal" fill="#000" letter-spacing="0.6">108</text>
<text x="585.9" y="213.8" font-size="19.8" text-anchor="middle" font-weight="normal" fill="#000" letter-spacing="0.2">0.36 ± 0.12</text>
<text x="448.5" y="249" font-size="19.8" text-anchor="middle" font-weight="normal" fill="#000" letter-spacing="0.6">109</text>
<text x="585.9" y="249" font-size="19.8" text-anchor="middle" font-weight="normal" fill="#000" letter-spacing="0.2">3.42 ± 0.01</text>
<text x="9.5" y="300.6" font-size="21.5" text-anchor="start" font-weight="bold" fill="#000" >c</text>
<line x1="64.8" y1="336.4" x2="64.8" y2="537.3" stroke="#000" stroke-width="2.3" />
<line x1="63.7" y1="536.2" x2="264.7" y2="536.2" stroke="#000" stroke-width="2.3" />
<line x1="56.5" y1="536.2" x2="64.8" y2="536.2" stroke="#000" stroke-width="2.3" />
<text x="53.8" y="541.3" font-size="14" text-anchor="end" font-weight="bold" fill="#000" >0.0</text>
<line x1="56.5" y1="502.92" x2="64.8" y2="502.92" stroke="#000" stroke-width="2.3" />
<text x="53.8" y="508.02" font-size="14" text-anchor="end" font-weight="bold" fill="#000" >0.2</text>
<line x1="56.5" y1="469.64" x2="64.8" y2="469.64" stroke="#000" stroke-width="2.3" />
<text x="53.8" y="474.74" font-size="14" text-anchor="end" font-weight="bold" fill="#000" >0.4</text>
<line x1="56.5" y1="436.36" x2="64.8" y2="436.36" stroke="#000" stroke-width="2.3" />
<text x="53.8" y="441.46" font-size="14" text-anchor="end" font-weight="bold" fill="#000" >0.6</text>
<line x1="56.5" y1="403.08" x2="64.8" y2="403.08" stroke="#000" stroke-width="2.3" />
<text x="53.8" y="408.18" font-size="14" text-anchor="end" font-weight="bold" fill="#000" >0.8</text>
<line x1="56.5" y1="369.8" x2="64.8" y2="369.8" stroke="#000" stroke-width="2.3" />
<text x="53.8" y="374.9" font-size="14" text-anchor="end" font-weight="bold" fill="#000" >1.0</text>
<line x1="56.5" y1="336.52" x2="64.8" y2="336.52" stroke="#000" stroke-width="2.3" />
<text x="53.8" y="341.62" font-size="14" text-anchor="end" font-weight="bold" fill="#000" >1.2</text>
<line x1="65" y1="536.2" x2="65" y2="543.4" stroke="#000" stroke-width="2.3" />
<text x="63.5" y="561" font-size="14" text-anchor="middle" font-weight="bold" fill="#000" >-10</text>
<line x1="114.65" y1="536.2" x2="114.65" y2="543.4" stroke="#000" stroke-width="2.3" />
<text x="113.15" y="561" font-size="14" text-anchor="middle" font-weight="bold" fill="#000" >-9</text>
<line x1="164.3" y1="536.2" x2="164.3" y2="543.4" stroke="#000" stroke-width="2.3" />
<text x="162.8" y="561" font-size="14" text-anchor="middle" font-weight="bold" fill="#000" >-8</text>
<line x1="213.95" y1="536.2" x2="213.95" y2="543.4" stroke="#000" stroke-width="2.3" />
<text x="212.45" y="561" font-size="14" text-anchor="middle" font-weight="bold" fill="#000" >-7</text>
<line x1="263.6" y1="536.2" x2="263.6" y2="543.4" stroke="#000" stroke-width="2.3" />
<text x="262.1" y="561" font-size="14" text-anchor="middle" font-weight="bold" fill="#000" >-6</text>
<line x1="68.9" y1="393.3" x2="218.2" y2="393.3" stroke="#2020EE" stroke-width="2" stroke-dasharray="5.9 3.75"/>
<line x1="218.2" y1="393.3" x2="218.2" y2="535" stroke="#2020EE" stroke-width="2" stroke-dasharray="5.9 3.75"/>
<line x1="69.3" y1="400" x2="223.6" y2="400" stroke="#46DC28" stroke-width="2" stroke-dasharray="5.9 3.9"/>
<line x1="223.6" y1="400" x2="223.6" y2="535" stroke="#46DC28" stroke-width="2" stroke-dasharray="5.9 3.9"/>
<polyline points="65,369.83 67.48,369.83 69.96,369.84 72.45,369.84 74.93,369.85 77.41,369.85 79.9,369.86 82.38,369.87 84.86,369.88 87.34,369.88 89.83,369.9 92.31,369.91 94.79,369.92 97.27,369.94 99.75,369.95 102.24,369.97 104.72,370 107.2,370.02 109.69,370.05 112.17,370.08 114.65,370.12 117.13,370.16 119.61,370.2 122.1,370.25 124.58,370.31 127.06,370.37 129.55,370.44 132.03,370.52 134.51,370.61 136.99,370.71 139.47,370.83 141.96,370.96 144.44,371.1 146.92,371.26 149.4,371.44 151.89,371.64 154.37,371.86 156.85,372.11 159.34,372.38 161.82,372.69 164.3,373.03 166.78,373.41 169.26,373.83 171.75,374.29 174.23,374.8 176.71,375.35 179.19,375.96 181.68,376.62 184.16,377.34 186.64,378.12 189.12,378.96 191.61,379.86 194.09,380.82 196.57,381.84 199.06,382.92 201.54,384.05 204.02,385.22 206.5,386.45 208.99,387.71 211.47,388.99 213.95,390.3 216.43,391.62 218.91,392.94 221.4,394.25 223.88,395.55 226.36,396.82 228.84,398.05 231.33,399.25 233.81,400.4 236.29,401.49 238.78,402.53 241.26,403.51 243.74,404.44 246.22,405.3 248.71,406.1 251.19,406.84 253.67,407.52 256.15,408.15 258.63,408.72 261.12,409.25 263.6,409.72" fill="none" stroke="#2020EE" stroke-width="1.3" />
<polyline points="65,369.96 67.48,369.98 69.96,370 72.45,370.01 74.93,370.04 77.41,370.06 79.9,370.09 82.38,370.11 84.86,370.15 87.34,370.18 89.83,370.22 92.31,370.26 94.79,370.31 97.27,370.36 99.75,370.41 102.24,370.47 104.72,370.54 107.2,370.61 109.69,370.69 112.17,370.78 114.65,370.88 117.13,370.98 119.61,371.1 122.1,371.23 124.58,371.37 127.06,371.52 129.55,371.69 132.03,371.87 134.51,372.07 136.99,372.28 139.47,372.52 141.96,372.78 144.44,373.06 146.92,373.37 149.4,373.7 151.89,374.06 154.37,374.45 156.85,374.87 159.34,375.32 161.82,375.81 164.3,376.34 166.78,376.91 169.26,377.51 171.75,378.16 174.23,378.86 176.71,379.59 179.19,380.37 181.68,381.2 184.16,382.07 186.64,382.99 189.12,383.95 191.61,384.95 194.09,385.99 196.57,387.07 199.06,388.18 201.54,389.32 204.02,390.49 206.5,391.68 208.99,392.89 211.47,394.11 213.95,395.33 216.43,396.55 218.91,397.77 221.4,398.97 223.88,400.16 226.36,401.33 228.84,402.47 231.33,403.58 233.81,404.66 236.29,405.7 238.78,406.7 241.26,407.66 243.74,408.57 246.22,409.44 248.71,410.27 251.19,411.05 253.67,411.78 256.15,412.48 258.63,413.12 261.12,413.73 263.6,414.3" fill="none" stroke="#46DC28" stroke-width="1.3" />
<line x1="199.06" y1="366.4" x2="199.06" y2="398.6" stroke="#2020EE" stroke-width="1.4" />
<line x1="195.36" y1="366.4" x2="202.75" y2="366.4" stroke="#2020EE" stroke-width="1.4" />
<line x1="195.36" y1="398.6" x2="202.75" y2="398.6" stroke="#2020EE" stroke-width="1.4" />
<line x1="213.95" y1="387" x2="213.95" y2="396" stroke="#2020EE" stroke-width="1.4" />
<line x1="210.25" y1="387" x2="217.65" y2="387" stroke="#2020EE" stroke-width="1.4" />
<line x1="210.25" y1="396" x2="217.65" y2="396" stroke="#2020EE" stroke-width="1.4" />
<line x1="233.81" y1="395.3" x2="233.81" y2="405" stroke="#2020EE" stroke-width="1.4" />
<line x1="230.11" y1="395.3" x2="237.51" y2="395.3" stroke="#2020EE" stroke-width="1.4" />
<line x1="230.11" y1="405" x2="237.51" y2="405" stroke="#2020EE" stroke-width="1.4" />
<line x1="248.71" y1="396.2" x2="248.71" y2="414.3" stroke="#2020EE" stroke-width="1.4" />
<line x1="245.01" y1="396.2" x2="252.41" y2="396.2" stroke="#2020EE" stroke-width="1.4" />
<line x1="245.01" y1="414.3" x2="252.41" y2="414.3" stroke="#2020EE" stroke-width="1.4" />
<line x1="263.6" y1="407" x2="263.6" y2="421.3" stroke="#2020EE" stroke-width="1.4" />
<line x1="259.9" y1="407" x2="267.3" y2="407" stroke="#2020EE" stroke-width="1.4" />
<line x1="259.9" y1="421.3" x2="267.3" y2="421.3" stroke="#2020EE" stroke-width="1.4" />
<line x1="199.06" y1="379.4" x2="199.06" y2="393.1" stroke="#46DC28" stroke-width="1.4" />
<line x1="195.36" y1="379.4" x2="202.75" y2="379.4" stroke="#46DC28" stroke-width="1.4" />
<line x1="195.36" y1="393.1" x2="202.75" y2="393.1" stroke="#46DC28" stroke-width="1.4" />
<line x1="213.95" y1="382.6" x2="213.95" y2="407.4" stroke="#46DC28" stroke-width="1.4" />
<line x1="210.25" y1="382.6" x2="217.65" y2="382.6" stroke="#46DC28" stroke-width="1.4" />
<line x1="210.25" y1="407.4" x2="217.65" y2="407.4" stroke="#46DC28" stroke-width="1.4" />
<line x1="233.81" y1="391" x2="233.81" y2="422.5" stroke="#46DC28" stroke-width="1.4" />
<line x1="230.11" y1="391" x2="237.51" y2="391" stroke="#46DC28" stroke-width="1.4" />
<line x1="230.11" y1="422.5" x2="237.51" y2="422.5" stroke="#46DC28" stroke-width="1.4" />
<line x1="248.71" y1="389.9" x2="248.71" y2="433" stroke="#46DC28" stroke-width="1.4" />
<line x1="245.01" y1="389.9" x2="252.41" y2="389.9" stroke="#46DC28" stroke-width="1.4" />
<line x1="245.01" y1="433" x2="252.41" y2="433" stroke="#46DC28" stroke-width="1.4" />
<line x1="263.6" y1="392.8" x2="263.6" y2="433" stroke="#46DC28" stroke-width="1.4" />
<line x1="259.9" y1="392.8" x2="267.3" y2="392.8" stroke="#46DC28" stroke-width="1.4" />
<line x1="259.9" y1="433" x2="267.3" y2="433" stroke="#46DC28" stroke-width="1.4" />
<circle cx="199.06" cy="382.51" r="4" fill="#2020EE"/>
<circle cx="213.95" cy="389.93" r="4" fill="#2020EE"/>
<circle cx="233.81" cy="400.08" r="4" fill="#2020EE"/>
<circle cx="248.71" cy="404.41" r="4" fill="#2020EE"/>
<circle cx="263.6" cy="412.56" r="4" fill="#2020EE"/>
<circle cx="199.06" cy="386.44" r="4" fill="#46DC28"/>
<circle cx="213.95" cy="394.76" r="4" fill="#46DC28"/>
<circle cx="233.81" cy="406.41" r="4" fill="#46DC28"/>
<circle cx="248.71" cy="411.4" r="4" fill="#46DC28"/>
<circle cx="263.6" cy="413.23" r="4" fill="#46DC28"/>
<circle cx="65" cy="369.8" r="4" fill="#46DC28"/>
<text transform="translate(159,580) scale(1.05,1)" font-size="21" text-anchor="middle"><tspan font-style="italic">log</tspan><tspan font-size="14.5" dy="4">10</tspan><tspan dy="-4">[Dose], M</tspan></text>
<text transform="translate(26.3,425.2) rotate(-90) scale(1.02,1)" font-size="21.5" text-anchor="middle" font-weight="normal" fill="#000" >AUC arbitrary units</text>
<text transform="translate(71.6,488.7) scale(1.06,1)" font-size="16.3">IC<tspan font-size="12.5" dy="2.3">50</tspan></text>
<line x1="73.4" y1="506.9" x2="93.7" y2="506.9" stroke="#46DC28" stroke-width="1.4" />
<circle cx="83.2" cy="506.9" r="3.9" fill="#46DC28"/>
<text x="106.6" y="511.8" font-size="16.5" text-anchor="start" font-weight="normal" fill="#46DC28" >108: 129.7 nM</text>
<line x1="73.4" y1="524.3" x2="93.7" y2="524.3" stroke="#2020EE" stroke-width="1.4" />
<circle cx="83.2" cy="524.3" r="3.9" fill="#2020EE"/>
<text x="106.6" y="528.6" font-size="16.5" text-anchor="start" font-weight="normal" fill="#2020EE" >109: 109.8 nM</text>
<text x="288.2" y="300.6" font-size="21.5" text-anchor="start" font-weight="bold" fill="#000" >d</text>
<rect x="358" y="336.8" width="286.9" height="55.1" fill="#E1E3FA"/>
<rect x="358" y="420.6" width="286.9" height="109.5" fill="#F7E4E4"/>
<line x1="363.3" y1="336" x2="646" y2="336" stroke="#000" stroke-width="2" stroke-dasharray="2 3.86"/>
<line x1="363.3" y1="419.9" x2="646" y2="419.9" stroke="#000" stroke-width="2" stroke-dasharray="2 3.86"/>
<line x1="358" y1="335.1" x2="358" y2="531.2" stroke="#000" stroke-width="2.3" />
<line x1="356.9" y1="530.1" x2="637" y2="530.1" stroke="#000" stroke-width="2.3" />
<line x1="351" y1="530.1" x2="358" y2="530.1" stroke="#000" stroke-width="2.3" />
<text x="348.3" y="535.2" font-size="14" text-anchor="end" font-weight="bold" fill="#000" >0.0</text>
<line x1="351" y1="433.15" x2="358" y2="433.15" stroke="#000" stroke-width="2.3" />
<text x="348.3" y="438.25" font-size="14" text-anchor="end" font-weight="bold" fill="#000" >0.5</text>
<line x1="351" y1="336.2" x2="358" y2="336.2" stroke="#000" stroke-width="2.3" />
<text x="348.3" y="341.3" font-size="14" text-anchor="end" font-weight="bold" fill="#000" >1.0</text>
<line x1="403" y1="530.1" x2="403" y2="538" stroke="#000" stroke-width="2.3" />
<text x="403.2" y="559.6" font-size="21.5" text-anchor="middle" font-weight="normal" fill="#000" >Vehicle</text>
<line x1="470.6" y1="530.1" x2="470.6" y2="538" stroke="#000" stroke-width="2.3" />
<text x="470.8" y="559.6" font-size="21.5" text-anchor="middle" font-weight="normal" fill="#000" >EBIN</text>
<line x1="537.5" y1="530.1" x2="537.5" y2="538" stroke="#000" stroke-width="2.3" />
<text x="537.7" y="559.6" font-size="21.5" text-anchor="middle" font-weight="normal" fill="#000" >108</text>
<line x1="604.6" y1="530.1" x2="604.6" y2="538" stroke="#000" stroke-width="2.3" />
<text x="604.8" y="559.6" font-size="21.5" text-anchor="middle" font-weight="normal" fill="#000" >109</text>
<text transform="translate(321,436.1) rotate(-90) scale(1.025,1)" font-size="21.5" text-anchor="middle" font-weight="normal" fill="#000" >Normalized TEER</text>
<text transform="translate(364.3,479.2) scale(1.06,1)" font-size="15.3" text-anchor="start" font-weight="normal" fill="#000" >Max barrier disruption</text>
<text transform="translate(618.5,326.2) scale(1.075,1)" font-size="15.3" text-anchor="start" font-weight="normal" fill="#000" >Baseline</text>
<polyline points="399.5,381.5 399.5,285 605.3,285 605.3,326.8" fill="none" stroke="#000" stroke-width="2" />
<polyline points="399.5,312.5 508.4,312.5 508.4,331" fill="none" stroke="#000" stroke-width="2" />
<line x1="458" y1="331" x2="558" y2="331" stroke="#000" stroke-width="2" />
<path d="M502.2,269.25V275.95M499.3,270.93L505.1,274.28M499.3,274.28L505.1,270.93" stroke="#000" stroke-width="1.9" stroke-linecap="round" fill="none"/>
<path d="M448,296.75V303.45M445.1,298.43L450.9,301.78M445.1,301.78L450.9,298.43" stroke="#000" stroke-width="1.9" stroke-linecap="round" fill="none"/>
<path d="M460.2,296.75V303.45M457.3,298.43L463.1,301.78M457.3,301.78L463.1,298.43" stroke="#000" stroke-width="1.9" stroke-linecap="round" fill="none"/>
<circle cx="403.2" cy="397" r="4.0" fill="#000"/>
<circle cx="384.6" cy="408.3" r="4.0" fill="#000"/>
<circle cx="414.5" cy="409.5" r="4.0" fill="#000"/>
<circle cx="422" cy="409" r="4.0" fill="#000"/>
<circle cx="391.8" cy="413.1" r="4.0" fill="#000"/>
<circle cx="399.6" cy="414.8" r="4.0" fill="#000"/>
<circle cx="384.6" cy="416" r="4.0" fill="#000"/>
<circle cx="422" cy="416.7" r="4.0" fill="#000"/>
<circle cx="391.8" cy="421" r="4.0" fill="#000"/>
<circle cx="406.8" cy="420.3" r="4.0" fill="#000"/>
<circle cx="399.6" cy="425.1" r="4.0" fill="#000"/>
<circle cx="414.5" cy="428.3" r="4.0" fill="#000"/>
<circle cx="399.6" cy="434" r="4.0" fill="#000"/>
<circle cx="406.8" cy="435.2" r="4.0" fill="#000"/>
<circle cx="403.2" cy="448.5" r="4.0" fill="#000"/>
<line x1="390" y1="418.5" x2="416" y2="418.5" stroke="#000" stroke-width="1.6" />
<line x1="403" y1="416.2" x2="403" y2="422.7" stroke="#000" stroke-width="1.2800000000000002" />
<line x1="396" y1="416.2" x2="410" y2="416.2" stroke="#000" stroke-width="1.2800000000000002" />
<line x1="396" y1="422.7" x2="410" y2="422.7" stroke="#000" stroke-width="1.2800000000000002" />
<circle cx="489.2" cy="348.8" r="4.0" fill="#E8B478"/>
<circle cx="470.6" cy="354.8" r="4.0" fill="#E8B478"/>
<circle cx="451.8" cy="369.7" r="4.0" fill="#E8B478"/>
<circle cx="489.2" cy="372.6" r="4.0" fill="#E8B478"/>
<circle cx="451.8" cy="378.2" r="4.0" fill="#E8B478"/>
<circle cx="470.6" cy="377" r="4.0" fill="#E8B478"/>
<circle cx="461" cy="389" r="4.0" fill="#E8B478"/>
<circle cx="479.8" cy="389.5" r="4.0" fill="#E8B478"/>
<circle cx="470.6" cy="398.2" r="4.0" fill="#E8B478"/>
<circle cx="489.2" cy="407.1" r="4.0" fill="#E8B478"/>
<circle cx="451.8" cy="414.3" r="4.0" fill="#E8B478"/>
<circle cx="470.6" cy="413.1" r="4.0" fill="#E8B478"/>
<circle cx="489.2" cy="416" r="4.0" fill="#E8B478"/>
<circle cx="470.6" cy="422" r="4.0" fill="#E8B478"/>
<circle cx="489.2" cy="424.7" r="4.0" fill="#E8B478"/>
<circle cx="451.8" cy="428" r="4.0" fill="#E8B478"/>
<line x1="448.4" y1="394.1" x2="492.8" y2="394.1" stroke="#E8B478" stroke-width="1.6" />
<line x1="470.6" y1="387.8" x2="470.6" y2="400.3" stroke="#E8B478" stroke-width="1.2800000000000002" />
<line x1="459.4" y1="387.8" x2="481.8" y2="387.8" stroke="#E8B478" stroke-width="1.2800000000000002" />
<line x1="459.4" y1="400.3" x2="481.8" y2="400.3" stroke="#E8B478" stroke-width="1.2800000000000002" />
<circle cx="537.6" cy="345.8" r="4.0" fill="#46DD2A"/>
<circle cx="537.6" cy="361.9" r="4.0" fill="#46DD2A"/>
<circle cx="529.9" cy="385.7" r="4.0" fill="#46DD2A"/>
<circle cx="545.8" cy="385.7" r="4.0" fill="#46DD2A"/>
<circle cx="529.9" cy="407.9" r="4.0" fill="#46DD2A"/>
<circle cx="545.8" cy="407.9" r="4.0" fill="#46DD2A"/>
<circle cx="537.6" cy="416.9" r="4.0" fill="#46DD2A"/>
<circle cx="537.6" cy="434" r="4.0" fill="#46DD2A"/>
<line x1="515.6" y1="393.1" x2="559.8" y2="393.1" stroke="#46DD2A" stroke-width="1.6" />
<line x1="537.7" y1="383.1" x2="537.7" y2="403.6" stroke="#46DD2A" stroke-width="1.2800000000000002" />
<line x1="526.6" y1="383.1" x2="548.8" y2="383.1" stroke="#46DD2A" stroke-width="1.2800000000000002" />
<line x1="526.6" y1="403.6" x2="548.8" y2="403.6" stroke="#46DD2A" stroke-width="1.2800000000000002" />
<circle cx="596.9" cy="347.4" r="4.0" fill="#4628F8"/>
<circle cx="612.7" cy="344.6" r="4.0" fill="#4628F8"/>
<circle cx="596.9" cy="405.4" r="4.0" fill="#4628F8"/>
<circle cx="612.7" cy="403.3" r="4.0" fill="#4628F8"/>
<circle cx="605" cy="416.9" r="4.0" fill="#4628F8"/>
<circle cx="605" cy="428.4" r="4.0" fill="#4628F8"/>
<line x1="582.8" y1="390.8" x2="627" y2="390.8" stroke="#4628F8" stroke-width="1.6" />
<line x1="604.9" y1="376.5" x2="604.9" y2="405.9" stroke="#4628F8" stroke-width="1.2800000000000002" />
<line x1="593.8" y1="376.5" x2="616" y2="376.5" stroke="#4628F8" stroke-width="1.2800000000000002" />
<line x1="593.8" y1="405.9" x2="616" y2="405.9" stroke="#4628F8" stroke-width="1.2800000000000002" />
<text x="9.2" y="599.2" font-size="21.5" text-anchor="start" font-weight="bold" fill="#000" >e</text>
<text transform="translate(70.8,625) scale(1.06,1)" font-size="21" text-anchor="middle" font-weight="normal" fill="#000" >Control</text>
<text transform="translate(70.5,650.5) scale(1.06,1)" font-size="21" text-anchor="middle" font-weight="normal" fill="#000" >PAR-1 peptide</text>
<text transform="translate(192.5,650.8) scale(1.07,1)" font-size="21" text-anchor="middle" font-weight="normal" fill="#000" >Vehicle</text>
<text transform="translate(318.3,651.2) scale(1.07,1)" font-size="21" text-anchor="middle" font-weight="normal" fill="#000" >VT-108</text>
<text transform="translate(441.4,650.7) scale(1.06,1)" font-size="21" text-anchor="middle" font-weight="normal" fill="#000" >VT-109</text>
<line x1="136" y1="772.4" x2="496" y2="772.4" stroke="#000" stroke-width="2.8" />
<text transform="translate(324.4,800) scale(1.075,1)" font-size="20.5" text-anchor="middle" font-weight="normal" fill="#000" >PAR-1 agonist peptide</text>
<text x="495.5" y="599.2" font-size="21.5" text-anchor="start" font-weight="bold" fill="#000" >f</text>
<line x1="553.4" y1="582.6" x2="553.4" y2="779.8" stroke="#000" stroke-width="2.3" />
<line x1="552.3" y1="778.7" x2="683.5" y2="778.7" stroke="#000" stroke-width="2.3" />
<line x1="546" y1="778.7" x2="553.4" y2="778.7" stroke="#000" stroke-width="2.3" />
<text x="546" y="783.8" font-size="14.3" text-anchor="end" font-weight="bold" fill="#000" >0</text>
<line x1="546" y1="739.7" x2="553.4" y2="739.7" stroke="#000" stroke-width="2.3" />
<text x="546" y="744.8" font-size="14.3" text-anchor="end" font-weight="bold" fill="#000" >2</text>
<line x1="546" y1="700.7" x2="553.4" y2="700.7" stroke="#000" stroke-width="2.3" />
<text x="546" y="705.8" font-size="14.3" text-anchor="end" font-weight="bold" fill="#000" >4</text>
<line x1="546" y1="661.7" x2="553.4" y2="661.7" stroke="#000" stroke-width="2.3" />
<text x="546" y="666.8" font-size="14.3" text-anchor="end" font-weight="bold" fill="#000" >6</text>
<line x1="546" y1="622.7" x2="553.4" y2="622.7" stroke="#000" stroke-width="2.3" />
<text x="546" y="627.8" font-size="14.3" text-anchor="end" font-weight="bold" fill="#000" >8</text>
<line x1="546" y1="583.7" x2="553.4" y2="583.7" stroke="#000" stroke-width="2.3" />
<text x="546" y="588.8" font-size="14.3" text-anchor="end" font-weight="bold" fill="#000" >10</text>
<line x1="573.1" y1="778.7" x2="573.1" y2="784" stroke="#000" stroke-width="2.3" />
<line x1="602.8" y1="778.7" x2="602.8" y2="784" stroke="#000" stroke-width="2.3" />
<line x1="632.4" y1="778.7" x2="632.4" y2="784" stroke="#000" stroke-width="2.3" />
<line x1="662.5" y1="778.7" x2="662.5" y2="784" stroke="#000" stroke-width="2.3" />
<text transform="translate(573.5,798.3) scale(1.1,1)" font-size="15.4" text-anchor="middle" font-weight="normal" fill="#000" >CP</text>
<text transform="translate(603,798.3) scale(1.05,1)" font-size="15.4" text-anchor="middle" font-weight="normal" fill="#000" >Veh</text>
<text transform="translate(633.3,798.3) scale(1.05,1)" font-size="15.4" text-anchor="middle" font-weight="normal" fill="#000" >108</text>
<text transform="translate(662.8,798.3) scale(1.05,1)" font-size="15.4" text-anchor="middle" font-weight="normal" fill="#000" >109</text>
<line x1="593" y1="802.6" x2="670.8" y2="802.6" stroke="#000" stroke-width="2" />
<text transform="translate(633,818.3) scale(1.07,1)" font-size="15.4" text-anchor="middle" font-weight="normal" fill="#000" >PAR-1 AP</text>
<text transform="translate(527.6,681.2) rotate(-90) scale(1.028,1)" font-size="21.5" text-anchor="middle" font-weight="normal" fill="#000" >EBA (μg/g lung)</text>
<polyline points="573.1,732 573.1,633.4 599,633.4 599,644.6" fill="none" stroke="#000" stroke-width="2" />
<polyline points="605.8,644.6 605.8,633.4 662.5,633.4 662.5,708" fill="none" stroke="#000" stroke-width="2" />
<polyline points="602.8,604.1 602.8,592.9 632.4,592.9 632.4,604.1" fill="none" stroke="#000" stroke-width="2" />
<path d="M574.6,618.1V624.9M571.66,619.8L577.54,623.2M571.66,623.2L577.54,619.8" stroke="#000" stroke-width="2.0" stroke-linecap="round" fill="none"/>
<path d="M586.8,618.1V624.9M583.86,619.8L589.74,623.2M583.86,623.2L589.74,619.8" stroke="#000" stroke-width="2.0" stroke-linecap="round" fill="none"/>
<path d="M598.9,618.1V624.9M595.96,619.8L601.84,623.2M595.96,623.2L601.84,619.8" stroke="#000" stroke-width="2.0" stroke-linecap="round" fill="none"/>
<path d="M628.5,618.1V624.9M625.56,619.8L631.44,623.2M625.56,623.2L631.44,619.8" stroke="#000" stroke-width="2.0" stroke-linecap="round" fill="none"/>
<path d="M640.7,618.1V624.9M637.76,619.8L643.64,623.2M637.76,623.2L643.64,619.8" stroke="#000" stroke-width="2.0" stroke-linecap="round" fill="none"/>
<path d="M611.8,577.4V584.2M608.86,579.1L614.74,582.5M608.86,582.5L614.74,579.1" stroke="#000" stroke-width="2.0" stroke-linecap="round" fill="none"/>
<path d="M623.6,577.4V584.2M620.66,579.1L626.54,582.5M620.66,582.5L626.54,579.1" stroke="#000" stroke-width="2.0" stroke-linecap="round" fill="none"/>
<circle cx="566.8" cy="743.4" r="4.1" fill="#000"/>
<circle cx="579.3" cy="746.8" r="4.1" fill="#000"/>
<circle cx="566.8" cy="752.5" r="4.1" fill="#000"/>
<circle cx="579.3" cy="768.6" r="4.1" fill="#000"/>
<circle cx="566.8" cy="774.3" r="4.1" fill="#000"/>
<line x1="563.5" y1="757.2" x2="582.9" y2="757.2" stroke="#000" stroke-width="1.9" />
<line x1="573.2" y1="751.5" x2="573.2" y2="763.3" stroke="#000" stroke-width="1.52" />
<line x1="568.2" y1="751.5" x2="578.2" y2="751.5" stroke="#000" stroke-width="1.52" />
<line x1="568.2" y1="763.3" x2="578.2" y2="763.3" stroke="#000" stroke-width="1.52" />
<circle cx="602.8" cy="657" r="4.1" fill="#F8200F"/>
<circle cx="602.8" cy="673.7" r="4.1" fill="#F8200F"/>
<circle cx="596.8" cy="694.6" r="4.1" fill="#F8200F"/>
<circle cx="609.1" cy="700.3" r="4.1" fill="#F8200F"/>
<circle cx="596.8" cy="710.7" r="4.1" fill="#F8200F"/>
<circle cx="609.1" cy="716.8" r="4.1" fill="#F8200F"/>
<circle cx="602.8" cy="725.9" r="4.1" fill="#F8200F"/>
<line x1="593" y1="696.5" x2="612.8" y2="696.5" stroke="#F8200F" stroke-width="1.9" />
<line x1="602.9" y1="687.4" x2="602.9" y2="706" stroke="#F8200F" stroke-width="1.52" />
<line x1="598.2" y1="687.4" x2="607.6" y2="687.4" stroke="#F8200F" stroke-width="1.52" />
<line x1="598.2" y1="706" x2="607.6" y2="706" stroke="#F8200F" stroke-width="1.52" />
<circle cx="632.4" cy="718.7" r="4.1" fill="#348C1E"/>
<circle cx="632.4" cy="731.2" r="4.1" fill="#348C1E"/>
<circle cx="632.4" cy="747.7" r="4.1" fill="#348C1E"/>
<circle cx="632.4" cy="761" r="4.1" fill="#348C1E"/>
<circle cx="632.4" cy="772.4" r="4.1" fill="#348C1E"/>
<line x1="622.9" y1="746.4" x2="642.3" y2="746.4" stroke="#348C1E" stroke-width="1.9" />
<line x1="632.6" y1="736.7" x2="632.6" y2="755.7" stroke="#348C1E" stroke-width="1.52" />
<line x1="627.8" y1="736.7" x2="637.4" y2="736.7" stroke="#348C1E" stroke-width="1.52" />
<line x1="627.8" y1="755.7" x2="637.4" y2="755.7" stroke="#348C1E" stroke-width="1.52" />
<circle cx="662.6" cy="720.2" r="4.1" fill="#5234F8"/>
<circle cx="668.9" cy="744.5" r="4.1" fill="#5234F8"/>
<circle cx="656.5" cy="749.1" r="4.1" fill="#5234F8"/>
<circle cx="668.9" cy="762.9" r="4.1" fill="#5234F8"/>
<circle cx="656.5" cy="769.2" r="4.1" fill="#5234F8"/>
<line x1="652.7" y1="749.1" x2="671.7" y2="749.1" stroke="#5234F8" stroke-width="1.9" />
<line x1="662.2" y1="741.1" x2="662.2" y2="758.2" stroke="#5234F8" stroke-width="1.52" />
<line x1="657.4" y1="741.1" x2="667" y2="741.1" stroke="#5234F8" stroke-width="1.52" />
<line x1="657.4" y1="758.2" x2="667" y2="758.2" stroke="#5234F8" stroke-width="1.52" />
</svg>
</body></html>
